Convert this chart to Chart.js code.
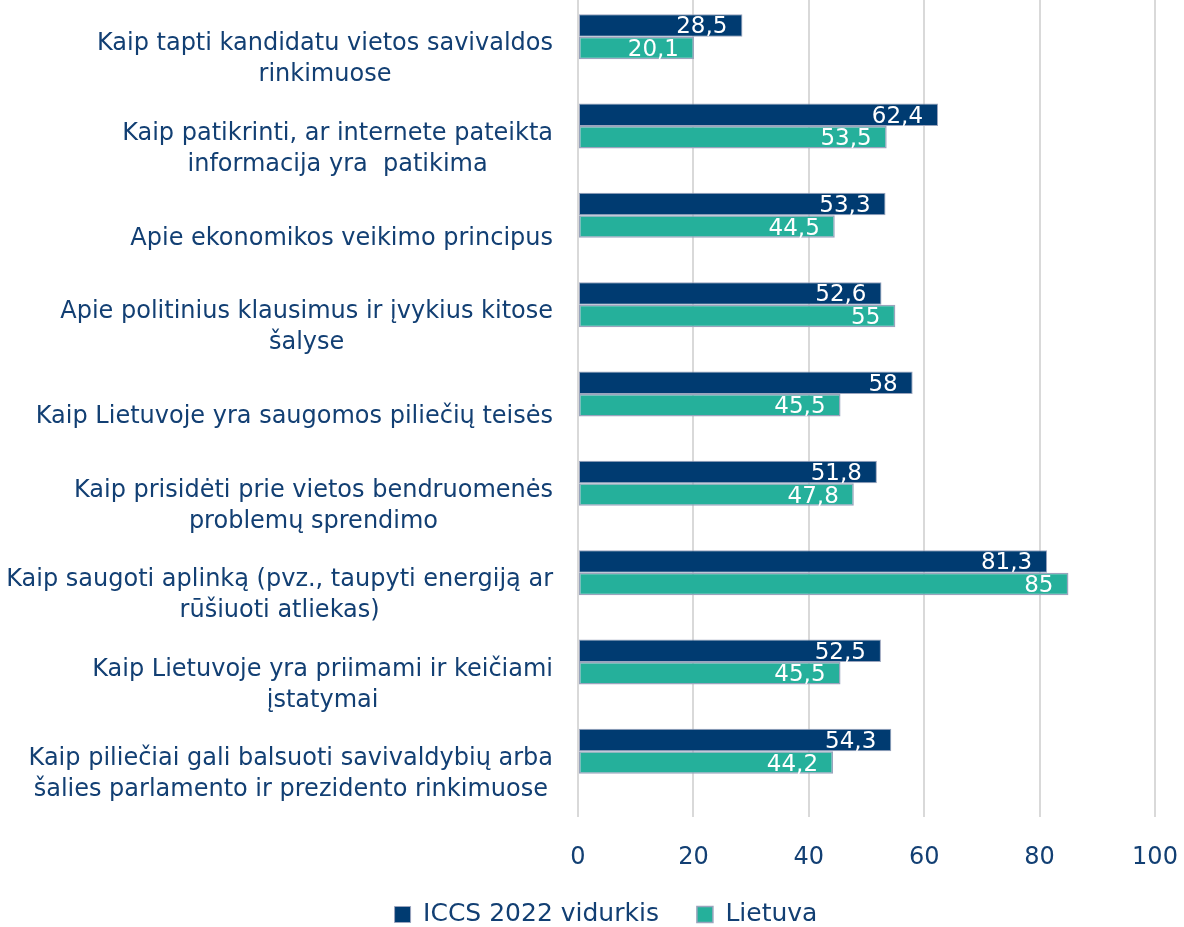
<!DOCTYPE html>
<html>
<head>
<meta charset="utf-8">
<script src="https://cdn.jsdelivr.net/npm/chart.js@4"></script>
<style>
  html, body { margin: 0; padding: 0; background: #fff; overflow: hidden; }
  #wrap { position: absolute; left: 0; top: -8px; width: 1184px; height: 945px; }
</style>
</head>
<body>
<div id="wrap"><canvas id="chart"></canvas></div>
<script>
const categories = [
  ['Kaip tapti kandidatu vietos savivaldos', 'rinkimuose'],
  ['Kaip patikrinti, ar internete pateikta', 'informacija yra  patikima'],
  ['Apie ekonomikos veikimo principus'],
  ['Apie politinius klausimus ir įvykius kitose', 'šalyse'],
  ['Kaip Lietuvoje yra saugomos piliečių teisės'],
  ['Kaip prisidėti prie vietos bendruomenės', 'problemų sprendimo'],
  ['Kaip saugoti aplinką (pvz., taupyti energiją ar', 'rūšiuoti atliekas)'],
  ['Kaip Lietuvoje yra priimami ir keičiami', 'įstatymai'],
  ['Kaip piliečiai gali balsuoti savivaldybių arba', 'šalies parlamento ir prezidento rinkimuose'],
];
const iccsAvg = [28.5, 62.4, 53.3, 52.6, 58, 51.8, 81.3, 52.5, 54.3];
const lietuva = [20.1, 53.5, 44.5, 55, 45.5, 47.8, 85, 45.5, 44.2];
const seriesNames = ['ICCS 2022 vidurkis', 'Lietuva'];

const NAVY = '#003b71';
const TEAL = '#25b09b';
const TEXT = '#123f73';
const FONT = '"DejaVu Sans", sans-serif';

// category labels: block right-aligned, lines centred inside the block
const categoryLabels = {
  id: 'categoryLabels',
  afterDraw(chart) {
    const ctx = chart.ctx;
    const y = chart.scales.y;
    const right = 553, lh = 31;
    ctx.save();
    ctx.font = '24px ' + FONT;
    ctx.fillStyle = TEXT;
    ctx.textAlign = 'center';
    ctx.textBaseline = 'middle';
    categories.forEach((lines, i) => {
      const yc = y.getPixelForValue(i) + 23;
      const w = Math.max(...lines.map(l => ctx.measureText(l).width));
      lines.forEach((l, j) => {
        ctx.fillText(l, right - w / 2, yc - (lines.length - 1) * lh / 2 + j * lh);
      });
    });
    ctx.restore();
  }
};

// white value labels at the inner end of each bar
const valueLabels = {
  id: 'valueLabels',
  afterDatasetsDraw(chart) {
    const ctx = chart.ctx;
    ctx.save();
    ctx.font = '23px ' + FONT;
    ctx.fillStyle = '#fff';
    ctx.textAlign = 'right';
    ctx.textBaseline = 'middle';
    chart.data.datasets.forEach((ds, di) => {
      chart.getDatasetMeta(di).data.forEach((bar, i) => {
        ctx.fillText(String(ds.data[i]).replace('.', ','), bar.x - 15, bar.y + 2);
      });
    });
    ctx.restore();
  }
};

new Chart(document.getElementById('chart'), {
  type: 'bar',
  data: {
    labels: categories,
    datasets: [
      {
        label: seriesNames[0],
        data: iccsAvg,
        backgroundColor: NAVY,
        borderColor: '#9aa4bd',
        borderWidth: 1,
        borderSkipped: false,
      },
      {
        label: seriesNames[1],
        data: lietuva,
        backgroundColor: TEAL,
        borderColor: '#9aa4bd',
        borderWidth: 1.5,
        borderSkipped: false,
      },
    ],
  },
  options: {
    indexAxis: 'y',
    responsive: true,
    maintainAspectRatio: false,
    animation: false,
    layout: { padding: { left: 36, right: 8, top: 0, bottom: 0 } },
    datasets: { bar: { categoryPercentage: 0.503, barPercentage: 1 } },
    scales: {
      x: {
        min: 0,
        max: 100,
        ticks: { stepSize: 20, color: TEXT, font: { family: FONT, size: 24 }, padding: 26 },
        grid: { color: '#d9d9d9', lineWidth: 2, tickLength: 21, tickColor: '#d9d9d9' },
        border: { display: false },
        afterFit(scale) {
          scale.height = 68;
          scale.paddingRight = 29;
        },
      },
      y: {
        ticks: { display: false },
        grid: { display: false },
        border: { display: false },
        afterFit(scale) { scale.width = 542; },
      },
    },
    plugins: {
      tooltip: { enabled: false },
      legend: {
        position: 'bottom',
        labels: {
          color: TEXT,
          font: { family: FONT, size: 25 },
          boxWidth: 16,
          boxHeight: 16,
          padding: 38,
        },
      },
    },
  },
  plugins: [categoryLabels, valueLabels],
});
</script>
</body>
</html>
